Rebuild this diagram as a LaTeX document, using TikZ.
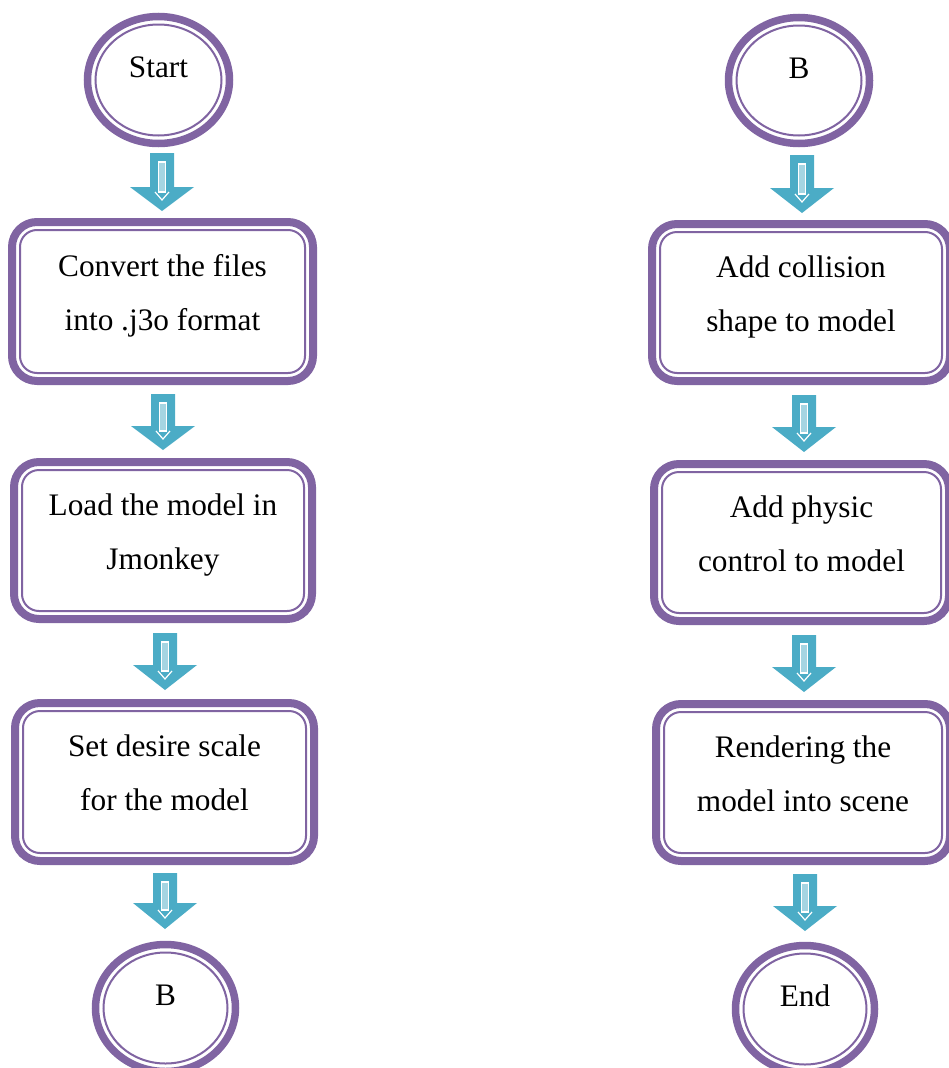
\documentclass[tikz,border=0pt]{standalone}
\usepackage{fontspec}
\setmainfont{Liberation Serif}
\usetikzlibrary{shapes.geometric}

\definecolor{frame}{HTML}{8064A2}
\definecolor{flow}{HTML}{4BACC6}
\definecolor{flowlight}{HTML}{A5D5E2}

% block arrow: #1 = centre x, #2 = top of shaft, #3 = top of head, #4 = tip
\newcommand\flowarrow[4]{%
  \fill[flow] (#1-12,#2) -- (#1+12,#2) -- (#1+12,#3) -- (#1+32,#3)
    -- (#1,#4) -- (#1-32,#3) -- (#1-12,#3) -- cycle;
  \draw[white, line width=1.2pt, fill=flowlight] (#1-3.5,#2+9) rectangle (#1+3.5,#4-19);
  \draw[white, line width=1.2pt] (#1-7,#4-19) -- (#1,#4-11) -- (#1+7,#4-19);
}
% thin inner outline of a step box
\newcommand\innerframe[1]{%
  \draw[frame, line width=2pt, rounded corners=17pt]
    ([shift={(8pt,8pt)}]#1.south west) rectangle ([shift={(-8pt,-8pt)}]#1.north east);
}
% thin inner ring of a terminal ellipse
\newcommand\innerring[3]{%
  \draw[frame, line width=2pt] (#1.center) ellipse [x radius=#2pt, y radius=#3pt];
}

\begin{document}
\begin{tikzpicture}[x=1pt, y=-1pt,
  font=\fontsize{31.3}{54}\selectfont,
  stepbox/.style={rectangle, draw=frame, fill=white, line width=8pt,
    rounded corners=25pt, outer sep=0pt, inner sep=0pt},
  termbox/.style={ellipse, draw=frame, fill=white, line width=7.5pt,
    outer sep=0pt, inner sep=0pt},
  boxtext/.style={label={[yshift=9.3pt, align=center]center:{#1}}},
  termtext/.style={label={[yshift=13pt]center:{\strut #1}}}]

\useasboundingbox (0,0) rectangle (949,1068);
\clip (0,0) rectangle (949,1068);

% ---- left column ----
\node[termbox, minimum width=142pt, minimum height=127pt, termtext=Start] (start) at (158.5,80) {};
\innerring{start}{63}{55.5}

\node[stepbox, minimum width=301pt, minimum height=159pt,
  boxtext={\strut Convert the files\\\strut into .j3o format}] (conv) at (162.5,301.5) {};
\innerframe{conv}

\node[stepbox, minimum width=298pt, minimum height=157pt,
  boxtext={\strut Load the model in\\\strut Jmonkey}] (load) at (163,540.5) {};
\innerframe{load}

\node[stepbox, minimum width=299pt, minimum height=158pt,
  boxtext={\strut Set desire scale\\\strut for the model}] (scale) at (164.5,782) {};
\innerframe{scale}

\node[termbox, minimum width=140pt, minimum height=127pt, termtext=B] (linkout) at (165.5,1008) {};
\innerring{linkout}{62}{55.5}

\flowarrow{162}{153}{187}{211}
\flowarrow{163}{394}{426}{450}
\flowarrow{165}{633}{665}{690}
\flowarrow{165}{873}{903}{929}

% ---- right column ----
\node[termbox, minimum width=141pt, minimum height=126pt, termtext=B] (linkin) at (799,80.5) {};
\innerring{linkin}{62.5}{55}

\node[stepbox, minimum width=298pt, minimum height=157pt,
  boxtext={\strut Add collision\\\strut shape to model}] (coll) at (801,302.5) {};
\innerframe{coll}

\node[stepbox, minimum width=295pt, minimum height=157pt,
  boxtext={\strut Add physic\\\strut control to model}] (phys) at (801.5,542.5) {};
\innerframe{phys}

\node[stepbox, minimum width=294pt, minimum height=157pt,
  boxtext={\strut Rendering the\\\strut model into scene}] (render) at (803,782.5) {};
\innerframe{render}

\node[termbox, minimum width=139pt, minimum height=127pt, termtext=End] (finish) at (805,1009) {};
\innerring{finish}{61.5}{55.5}

\flowarrow{802}{155}{188}{213}
\flowarrow{804}{395}{427}{452}
\flowarrow{804}{635}{667}{692}
\flowarrow{805}{874}{906}{931}
\end{tikzpicture}
\end{document}
